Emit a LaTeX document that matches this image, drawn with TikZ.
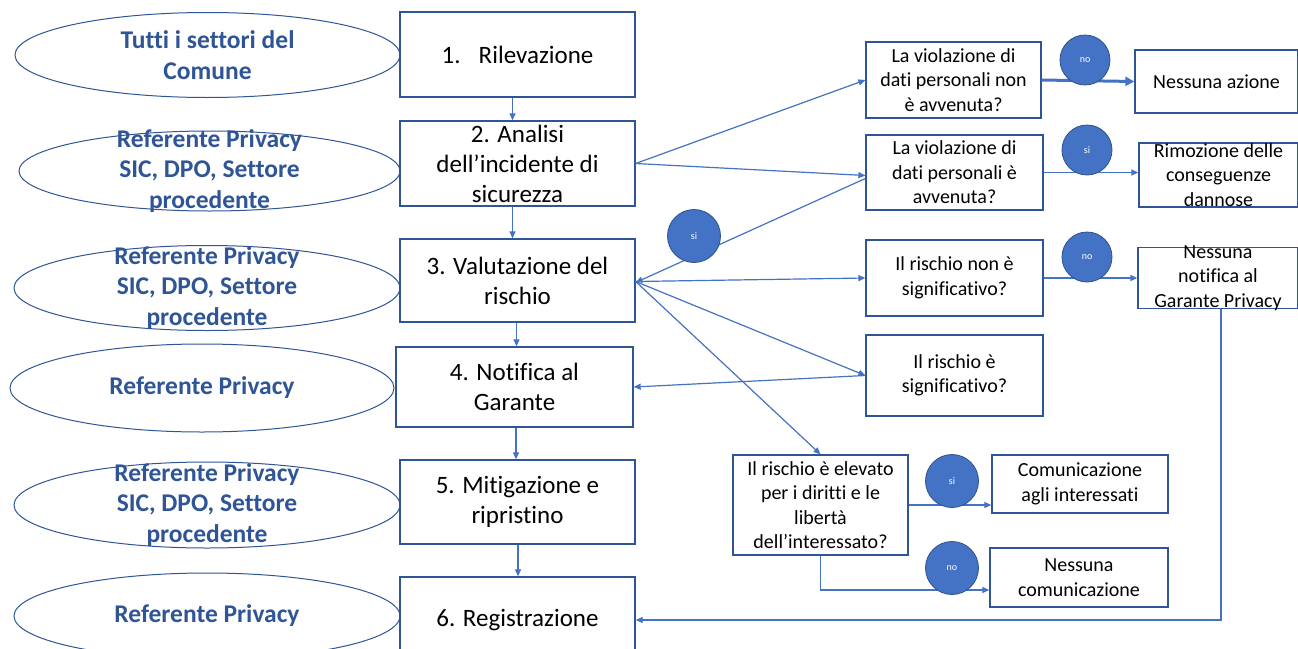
\documentclass[tikz,border=0pt]{standalone}
\usepackage{fontspec}
\setmainfont{Carlito}[Ligatures=NoCommon]
\usetikzlibrary{shapes.geometric,arrows.meta}
\definecolor{dblue}{HTML}{2F5597}
\definecolor{lblue}{HTML}{4472C4}
\definecolor{cedge}{HTML}{2F528F}
\begin{document}
\begin{tikzpicture}[x=1pt,y=-1pt,
 stepbox/.style={draw=dblue,line width=1.3pt,fill=white,inner sep=0pt,align=center,font=\fontsize{25}{30}\selectfont},
 qbox/.style={draw=dblue,line width=1.3pt,fill=white,inner sep=0pt,align=center,font=\fontsize{20}{24.5}\selectfont},
 qtext/.style={align=center,font=\fontsize{20}{24.5}\selectfont},
 role/.style={draw=dblue,line width=1pt,ellipse,inner sep=0pt,fill=white},
 roletext/.style={text=dblue,font=\bfseries\fontsize{25.5}{30.5}\selectfont,align=center},
 badge/.style={circle,fill=lblue,draw=cedge,line width=0.8pt,minimum size=50pt,inner sep=0pt,text=white,font=\fontsize{10}{12}\selectfont},
 conn/.style={draw=lblue,line width=1.2pt,-{Triangle[length=7pt,width=6pt]}},
]
\clip (0,0) rectangle (1298,648);
\useasboundingbox (0,0) rectangle (1298,648);

% left ellipses
\node[role,minimum width=385pt,minimum height=85pt,label={[roletext]center:{Tutti i settori del\\Comune}}] (e1) at (207.5,55) {};
\node[role,minimum width=381pt,minimum height=80pt,label={[roletext]center:{Referente Privacy\\SIC, DPO, Settore\\procedente}}] (e2) at (209.5,171) {};
\node[role,minimum width=386pt,minimum height=85pt,label={[roletext]center:{Referente Privacy\\SIC, DPO, Settore\\procedente}}] (e3) at (207,288) {};
\node[role,minimum width=384pt,minimum height=88pt,label={[roletext]center:{Referente Privacy}}] (e4) at (202,388) {};
\node[role,minimum width=386pt,minimum height=86pt,label={[roletext]center:{Referente Privacy\\SIC, DPO, Settore\\procedente}}] (e5) at (207,505) {};
\node[role,minimum width=386pt,minimum height=86pt,label={[roletext]center:{Referente Privacy}}] (e6) at (207,616) {};

% step boxes
\node[stepbox,minimum width=235pt,minimum height=85pt] (s1) at (517.5,54.5) {1.\enspace\ Rilevazione};
\node[stepbox,minimum width=235pt,minimum height=85pt] (s2) at (517.5,163.5) {2. Analisi\\dell’incidente di\\sicurezza};
\node[stepbox,minimum width=235pt,minimum height=83pt] (s3) at (517.5,280.5) {3. Valutazione del\\rischio};
\node[stepbox,minimum width=237pt,minimum height=80pt] (s4) at (514.5,387) {4. Notifica al\\Garante};
\node[stepbox,minimum width=235pt,minimum height=84pt] (s5) at (517.5,502) {5. Mitigazione e\\ripristino};
\node[stepbox,minimum width=235pt,minimum height=86pt] (s6) at (517.5,620) {6. Registrazione};

% question boxes
\node[qbox,minimum width=175pt,minimum height=76pt] (q1) at (953.5,80) {La violazione di\\dati personali non\\è avvenuta?};
\node[qbox,minimum width=177pt,minimum height=75pt] (q2) at (954.5,172.5) {La violazione di\\dati personali è\\avvenuta?};
\node[qbox,minimum width=177pt,minimum height=76pt] (q3) at (954.5,278) {Il rischio non è\\significativo?};
\node[qbox,minimum width=177pt,minimum height=81pt] (q4) at (954.5,375.5) {Il rischio è\\significativo?};
\node[qbox,minimum width=175pt,minimum height=100pt] (q5) at (820.5,505) {Il rischio è elevato\\per i diritti e le\\libertà\\dell’interessato?};

% outcome boxes
\node[qbox,minimum width=163pt,minimum height=63pt] (na) at (1216.5,81.5) {Nessuna azione};
\node[qbox,minimum width=159pt,minimum height=64pt,label={[qtext]center:{Rimozione delle\\conseguenze\\dannose}}] (rm) at (1218.5,175) {};
\node[qbox,minimum width=160pt,minimum height=61pt,label={[qtext]center:{Nessuna\\notifica al\\Garante Privacy}}] (nn) at (1218,278) {};
\node[qbox,minimum width=176pt,minimum height=58pt] (c1) at (1080,484) {Comunicazione\\agli interessati};
\node[qbox,minimum width=178pt,minimum height=59pt] (n2) at (1079,577.5) {Nessuna\\comunicazione};

% vertical flow
\draw[conn] ([xshift=-5pt]s1.south) -- ([xshift=-5pt]s1.south |- s2.north);
\draw[conn] ([xshift=-5pt]s2.south) -- ([xshift=-5pt]s2.south |- s3.north);
\draw[conn] ([xshift=-1pt]s3.south) -- ([xshift=-1pt]s3.south |- s4.north);
\draw[conn] ([xshift=1.5pt]s4.south) -- ([xshift=1.5pt]s4.south |- s5.north);
\draw[conn] ([xshift=0.5pt]s5.south) -- ([xshift=0.5pt]s5.south |- s6.north);

% branches
\draw[conn] (s2.east) -- (q1.west);
\draw[conn] (s2.east) -- ([yshift=-3pt]q2.west);
\draw[conn] ([yshift=-6pt]q2.west) -- ([yshift=-2pt]s3.east);
\draw[conn] ([yshift=-1pt]s3.east) -- (q3.west);
\draw[conn] ([yshift=-1pt]s3.east) -- (q4.west);
\draw[conn] (q4.west) -- (s4.east);
\draw[conn] ([yshift=-1pt]s3.east) -- (q5.north);

\draw[draw=lblue,line width=3pt,-{Triangle[length=9pt,width=9pt]}] (q1.east) -- (na.west);
\draw[conn] (q2.east) -- (q2.east -| rm.west);
\draw[conn] (q3.east) -- (q3.east -| nn.west);
\draw[conn] (q5.east) -- (q5.east -| c1.west);
\coordinate (k1) at (820.5,590);
\draw[conn] (q5.south) -- (k1) -- (k1 -| n2.west);
\coordinate (k2) at (1221,620);
\draw[conn] (nn.south -| k2) -- (k2) -- (s6.east);

% badges
\node[badge] (b1) at (1085,60) {no};
\node[badge] (b2) at (1087,150) {si};
\node[badge,minimum size=53pt] (b3) at (694,236) {si};
\node[badge] (b4) at (1087,257) {no};
\node[badge,minimum size=53pt] (b5) at (952,481) {si};
\node[badge,minimum size=53pt] (b6) at (952,568) {no};
\end{tikzpicture}
\end{document}
